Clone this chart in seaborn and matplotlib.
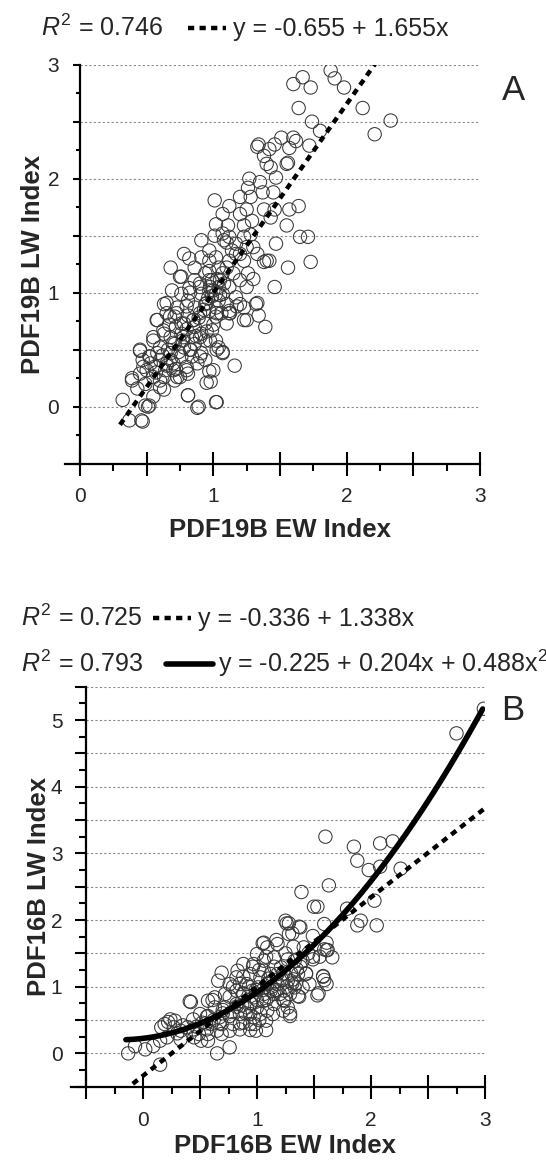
import numpy as np
import pandas as pd
import matplotlib
matplotlib.use("Agg")
import matplotlib.pyplot as plt
import seaborn as sns
from matplotlib.lines import Line2D
from matplotlib.ticker import MultipleLocator, FuncFormatter

# ---------------- data ----------------
a_ew = [1.88, 1.91, 1.98, 1.67, 1.60, 1.73, 2.12, 2.33, 2.21, 1.64, 1.74, 1.80, 1.72, 1.51, 1.60, 1.62,
        1.57, 1.46, 1.42, 1.34, 1.33, 1.38, 1.40, 1.56, 1.55, 1.43, 1.47, 1.27, 1.35, 1.26, 1.37, 1.45,
        1.28, 1.20, 1.01, 1.12, 1.25, 1.38, 1.46, 1.64, 1.57, 1.07, 1.20, 1.29, 1.43, 1.02, 1.11, 1.23,
        1.55, 0.91, 1.01, 1.07, 1.12, 1.10, 1.23, 1.28, 1.30, 1.47, 1.65, 1.71, 1.73, 1.56, 1.40, 1.42,
        1.46, 1.32, 1.34, 1.39, 1.16, 1.02, 0.88, 0.81, 1.23, 1.12, 1.07, 0.98, 0.97, 0.78, 0.82, 0.68,
        0.76, 0.69, 0.91, 0.97, 1.02, 0.86, 0.94, 0.99, 1.04, 0.97, 1.07, 1.12, 1.17, 1.10, 1.02, 0.94,
        0.86, 0.81, 0.73, 0.65, 0.63, 0.58, 0.71, 0.78, 0.86, 0.94, 0.99, 0.91, 0.84, 0.76, 0.68, 0.63,
        0.55, 0.60, 0.71, 0.78, 0.86, 0.94, 1.02, 1.04, 0.91, 0.84, 0.76, 0.68, 0.60, 0.52, 0.47, 0.45,
        0.56, 0.64, 0.72, 0.80, 0.88, 0.94, 0.50, 0.55, 0.63, 0.73, 0.81, 0.45, 0.39, 0.49, 0.60, 0.71,
        0.43, 0.32, 0.49, 0.51, 0.52, 0.46, 0.37, 0.47, 0.55, 0.63, 0.58, 0.68, 1.17, 1.23, 1.26, 1.30,
        1.25, 1.20, 1.15, 1.10, 1.07, 1.12, 0.97, 0.86, 0.91, 1.02, 0.97, 0.99, 1.04, 1.12, 1.23, 1.20,
        1.06, 1.02, 0.81, 0.85, 0.90, 0.97, 0.76, 0.82, 0.90, 0.97, 1.04, 1.08, 1.17, 1.20, 1.14, 1.25,
        1.33, 1.38, 0.62, 0.66, 0.70, 0.74, 0.77, 0.80, 0.83, 0.87, 0.89, 0.93, 0.96, 1.00, 1.03, 1.05,
        1.08, 1.00, 0.95, 0.72, 0.67, 0.57, 0.53, 0.65,
        0.575, 0.65, 0.725, 0.80, 0.85, 0.90, 0.975, 1.025, 1.07, 1.25, 1.33, 1.175, 1.125, 0.65,
        0.525, 0.45, 0.39, 0.475, 0.60, 0.70, 0.80, 0.75, 0.81, 0.89, 1.025, 0.95, 1.00, 0.55,
        0.625, 0.775, 0.70, 0.825, 0.90, 0.76, 0.675, 0.95, 1.025, 1.10, 0.975, 1.05, 0.90, 0.825,
        0.75]
a_lw = [2.95, 2.88, 2.80, 2.89, 2.83, 2.80, 2.62, 2.51, 2.39, 2.62, 2.50, 2.42, 2.29, 2.36, 2.36, 2.33,
        2.27, 2.30, 2.26, 2.30, 2.28, 2.20, 2.13, 2.14, 2.13, 2.10, 2.01, 2.00, 1.97, 1.92, 1.88, 1.88,
        1.84, 1.84, 1.81, 1.76, 1.73, 1.73, 1.73, 1.76, 1.73, 1.69, 1.69, 1.63, 1.66, 1.60, 1.59, 1.59,
        1.59, 1.46, 1.50, 1.52, 1.49, 1.44, 1.49, 1.51, 1.40, 1.43, 1.49, 1.49, 1.27, 1.22, 1.28, 1.28,
        1.05, 0.90, 0.80, 0.70, 0.36, 0.04, -0.01, 0.10, 0.76, 0.82, 0.48, 0.22, 0.31, 1.34, 1.30, 1.22,
        1.14, 1.02, 1.31, 1.37, 1.31, 1.11, 1.17, 1.11, 1.05, 1.02, 0.99, 1.05, 0.96, 0.90, 0.87, 0.90,
        0.87, 0.93, 0.87, 0.82, 0.90, 0.76, 0.79, 0.73, 0.70, 0.73, 0.67, 0.64, 0.61, 0.64, 0.61, 0.64,
        0.58, 0.52, 0.55, 0.52, 0.55, 0.58, 0.58, 0.52, 0.47, 0.44, 0.44, 0.41, 0.41, 0.44, 0.41, 0.49,
        0.35, 0.32, 0.33, 0.35, 0.38, 0.41, 0.32, 0.26, 0.26, 0.26, 0.29, 0.29, 0.25, 0.20, 0.17, 0.23,
        0.16, 0.06, 0.01, 0.00, 0.01, -0.12, -0.12, -0.13, 0.09, 0.15, 0.47, 0.47, 1.34, 1.28, 1.17, 1.12,
        1.05, 1.11, 1.17, 1.22, 1.17, 1.28, 1.28, 1.22, 0.99, 0.99, 1.11, 0.97, 0.93, 0.84, 0.87, 0.90,
        0.82, 0.79, 0.80, 0.76, 0.82, 0.84, 0.99, 1.04, 1.05, 1.19, 1.22, 1.46, 1.43, 1.34, 1.37, 1.40,
        1.34, 1.27, 0.45, 0.50, 0.38, 0.48, 0.58, 0.68, 0.50, 0.62, 0.78, 0.85, 0.95, 1.02, 1.12, 0.98,
        1.08, 0.72, 0.66, 0.70, 0.72, 0.30, 0.38, 0.36,
        0.76, 0.91, 0.82, 0.88, 0.76, 0.61, 0.58, 0.50, 0.47, 0.76, 0.91, 0.88, 0.82, 0.38,
        0.44, 0.50, 0.23, 0.35, 0.23, 0.32, 0.32, 0.26, 0.10, 0.00, 0.04, 0.21, 0.32, 0.61,
        0.67, 0.61, 0.56, 0.50, 0.44, 0.73, 0.79, 0.91, 0.82, 0.73, 1.05, 1.11, 1.08, 1.00,
        1.14]

b_ew = [2.99, 2.75, 1.60, 1.85, 2.08, 2.19, 1.88, 1.98, 2.08, 2.26, 1.39, 1.63, 1.50, 1.53, 1.79, 2.03,
        1.25, 1.28, 1.38, 1.59, 1.91, 1.88, 2.05, 1.28, 1.49, 1.61, 1.59, 1.66, 1.49, 1.41, 1.58, 1.61,
        1.59, 1.53, 1.36, 1.40, 1.29, 1.06, 1.09, 1.18, 1.00, 0.88, 0.82, 0.69, 0.66, 0.41, 0.24, 0.19,
        0.16, 0.28, -0.13, 0.02, 0.15, 0.09, 0.65, 0.76, 0.33, 0.44, 0.51, 0.57, 0.98, 0.99, 1.08, 1.14,
        1.23, 1.15, 1.24, 1.32, 1.35, 1.33, 1.27, 1.21, 1.12, 1.03, 0.94, 0.91, 1.01, 1.09, 1.18, 1.27,
        1.33, 1.24, 1.15, 1.06, 0.97, 0.88, 0.82, 0.72, 0.63, 0.57, 0.63, 0.72, 0.82, 0.91, 1.00, 1.09,
        0.94, 0.85, 0.76, 0.67, 0.57, 0.50, 0.44, 0.52, 0.60, 0.69, 0.79, 0.88, 0.97, 1.03, 0.39, 0.33,
        0.27, 0.56, 0.65, 0.76, 0.85, 0.45, 0.57, 0.49, 0.69, 0.83, 0.76, 0.85, 0.96, 1.06, 1.12, 1.20,
        1.29, 1.36, 1.40, 1.43, 1.15, 1.06, 0.97, 1.06, 1.18, 1.46, 1.27, 0.94, 0.15, 0.21, -0.07, 0.95,
        1.00, 1.05, 1.10, 1.13, 1.17, 1.22, 1.26, 1.30, 1.34, 1.38, 1.10, 0.90, 0.87, 0.78, 0.70, 0.62,
        0.55, 0.47, 0.35, 0.30, 0.93, 1.02, 1.15, 1.25, 1.32, 1.45, 1.55, 1.62, 0.22, 0.42,
        0.79, 0.88, 0.965, 1.08, 1.05, 1.17, 1.26, 1.37, 1.31, 1.23, 1.31, 1.37, 1.23, 1.08, 0.94,
        0.82, 0.70, 0.61, 0.56, 0.67, 0.85, 1.02, 1.08, 0.94, 1.29, 1.54, 1.58, 1.49, 1.61, 1.43,
        1.11, 0.99, 1.17, 0.88, 0.76]
b_lw = [5.17, 4.80, 3.25, 3.10, 3.15, 3.18, 2.89, 2.75, 2.80, 2.77, 2.42, 2.52, 2.20, 2.20, 2.17, 2.29,
        1.99, 1.95, 1.89, 1.94, 1.99, 1.92, 1.92, 1.79, 1.76, 1.66, 1.56, 1.44, 1.41, 1.59, 1.16, 1.04,
        1.10, 0.87, 0.86, 0.99, 0.56, 1.66, 1.59, 1.64, 1.49, 1.34, 1.14, 1.21, 1.09, 0.78, 0.51, 0.44,
        0.39, 0.49, 0.00, 0.06, -0.17, 0.11, 0.00, 0.09, 0.21, 0.36, 0.19, 0.29, 0.44, 0.34, 0.49, 0.59,
        0.64, 0.89, 0.94, 1.11, 1.26, 1.39, 1.41, 1.29, 1.19, 1.14, 1.19, 1.04, 0.99, 1.04, 1.04, 1.09,
        0.99, 0.79, 0.74, 0.79, 0.84, 0.89, 0.94, 0.89, 0.84, 0.79, 0.69, 0.69, 0.74, 0.69, 0.69, 0.64,
        0.59, 0.59, 0.56, 0.54, 0.56, 0.59, 0.51, 0.46, 0.44, 0.44, 0.44, 0.46, 0.54, 0.59, 0.39, 0.34,
        0.39, 0.36, 0.34, 0.34, 0.36, 0.24, 0.19, 0.29, 0.29, 1.24, 1.04, 1.04, 0.94, 0.89, 0.94, 0.89,
        0.89, 1.19, 1.39, 1.19, 1.44, 1.39, 1.34, 1.24, 1.19, 1.04, 0.69, 0.44, 0.19, 0.24, 0.11, 0.75,
        0.80, 0.95, 0.85, 1.00, 0.95, 1.10, 1.00, 1.20, 1.05, 1.30, 1.12, 0.60, 0.72, 0.62, 0.60, 0.50,
        0.45, 0.40, 0.42, 0.30, 1.00, 1.25, 1.30, 1.50, 1.60, 1.50, 1.45, 1.55, 0.47, 0.77,
        1.00, 1.15, 1.30, 1.45, 1.65, 1.70, 1.95, 1.90, 1.80, 1.20, 1.05, 0.85, 0.80, 0.80, 0.75,
        0.70, 0.65, 0.80, 0.55, 0.45, 0.45, 0.50, 0.35, 0.35, 0.60, 0.90, 1.15, 1.45, 1.55, 1.20,
        1.05, 0.95, 0.95, 0.90, 0.85]

# fitted-line coefficients (lowest order first) and the x ranges they are drawn over
a_lin = [-0.655, 1.655]
a_lin_range = [0.30, 2.22]
b_lin = [-0.336, 1.338]
b_lin_range = [-0.09, 3.0]
b_quad = [0.225, 0.204, 0.488]
b_quad_range = [-0.15, 2.98]

a_labels = [r"$R^2$ = 0.746", "y = -0.655 + 1.655x"]
b_labels = [r"$R^2$ = 0.725", "y = -0.336 + 1.338x",
            r"$R^2$ = 0.793", "y = -0.225 + 0.204x + 0.488x$^2$"]

# ---------------- style ----------------
sns.set_theme(style="white")
plt.rcParams['font.family'] = ['Liberation Sans', 'DejaVu Sans']
plt.rcParams['mathtext.fontset'] = 'custom'
plt.rcParams['mathtext.rm'] = 'Liberation Sans'
plt.rcParams['mathtext.it'] = 'Liberation Sans:italic'
plt.rcParams['mathtext.bf'] = 'Liberation Sans:bold'

W, H = 546, 1163
fig = plt.figure(figsize=(W / 100, H / 100), dpi=100)
fig.patch.set_facecolor('white')

axA = fig.add_axes([80 / W, 1 - 463.7 / H, 400 / W, 399 / H])
axB = fig.add_axes([86 / W, 1 - 1086.7 / H, 399 / W, 400 / H])

dash = (0, (1.4, 1.2))


def poly_line(coefs, xr, n=200):
    xs = np.linspace(xr[0], xr[1], n)
    ys = np.zeros_like(xs)
    for k, c in enumerate(coefs):
        ys = ys + c * xs ** k
    return pd.DataFrame({"x": xs, "y": ys})


def style_axes(ax, xlim, ylim, ext_px, px_per_x, ymaj, ymin, ypad, xpad):
    ax.set_xlim(*xlim)
    ax.set_ylim(*ylim)
    ax.set_facecolor('white')
    for s in ['top', 'right']:
        ax.spines[s].set_visible(False)
    for s in ['left', 'bottom']:
        ax.spines[s].set_color('black')
        ax.spines[s].set_linewidth(1.6)
        ax.spines[s].set_zorder(5)
    ax.spines['bottom'].set_bounds(xlim[0] - ext_px / px_per_x, xlim[1])
    ax.xaxis.set_major_locator(MultipleLocator(0.5))
    ax.xaxis.set_minor_locator(MultipleLocator(0.25))
    ax.yaxis.set_major_locator(MultipleLocator(0.5))
    ax.yaxis.set_minor_locator(MultipleLocator(0.25))
    fmt = FuncFormatter(lambda v, p: f"{int(round(v))}" if abs(v - round(v)) < 1e-6 else "")
    ax.xaxis.set_major_formatter(fmt)
    ax.yaxis.set_major_formatter(fmt)
    ax.tick_params(axis='x', which='major', direction='inout', length=17, width=1.5,
                   color='black', labelsize=15, pad=xpad, bottom=True)
    ax.tick_params(axis='x', which='minor', direction='out', length=5, width=1.5,
                   color='black', bottom=True)
    ax.tick_params(axis='y', which='major', direction='out', length=ymaj, width=1.5,
                   color='black', labelsize=15, pad=ypad, left=True)
    ax.tick_params(axis='y', which='minor', direction='out', length=ymin, width=1.5,
                   color='black', left=True)
    ax.yaxis.grid(True, which='major', color='#8a8a8a', linestyle=(0, (2, 2)), linewidth=0.8)
    ax.xaxis.grid(False)
    ax.set_axisbelow(True)


scatter_kw = dict(marker='o', s=92, facecolors='none', edgecolor='#383838',
                  linewidth=0.75, zorder=3)

# ---------------- panel A ----------------
sns.scatterplot(x=a_ew, y=a_lw, ax=axA, **scatter_kw)
la = poly_line(a_lin, a_lin_range)
sns.lineplot(data=la, x="x", y="y", ax=axA, color='black', linewidth=3.2,
             linestyle=dash, zorder=4)
style_axes(axA, (0, 3), (-0.5, 3), 15, 133.3, 5, 3.2, 10, 8)
axA.set_xlabel("PDF19B EW Index", fontsize=18.5, fontweight='bold', labelpad=9)
axA.set_ylabel("PDF19B LW Index", fontsize=18.5, fontweight='bold', labelpad=2)

# ---------------- panel B ----------------
sns.scatterplot(x=b_ew, y=b_lw, ax=axB, **scatter_kw)
lb = poly_line(b_lin, b_lin_range)
sns.lineplot(data=lb, x="x", y="y", ax=axB, color='black', linewidth=3.2,
             linestyle=dash, zorder=4)
qb = poly_line(b_quad, b_quad_range)
sns.lineplot(data=qb, x="x", y="y", ax=axB, color='black', linewidth=4.0, zorder=4)
style_axes(axB, (-0.5, 3), (-0.5, 5.5), 15, 114, 8, 4.7, 9, 9)
axB.set_xlabel("PDF16B EW Index", fontsize=18.5, fontweight='bold', labelpad=3)
axB.set_ylabel("PDF16B LW Index", fontsize=18.5, fontweight='bold', labelpad=0)


# ---------------- legends / panel letters ----------------
def fx(px):
    return px / W


def fy(py):
    return 1 - py / H


fs = 18
fig.text(fx(41), fy(36), a_labels[0], fontsize=fs, va='baseline', ha='left')
fig.add_artist(Line2D([fx(188), fx(226)], [fy(28), fy(28)], color='black',
                      linewidth=3.2, linestyle=dash))
fig.text(fx(233), fy(36), a_labels[1], fontsize=fs, va='baseline', ha='left')

fig.text(fx(21), fy(626), b_labels[0], fontsize=fs, va='baseline', ha='left')
fig.add_artist(Line2D([fx(153), fx(191)], [fy(618), fy(618)], color='black',
                      linewidth=3.2, linestyle=dash))
fig.text(fx(198), fy(626), b_labels[1], fontsize=fs, va='baseline', ha='left')

fig.text(fx(21), fy(672), b_labels[2], fontsize=fs, va='baseline', ha='left')
fig.add_artist(Line2D([fx(166), fx(213)], [fy(664), fy(664)], color='black',
                      linewidth=4.0))
fig.text(fx(218), fy(672), b_labels[3], fontsize=fs, va='baseline', ha='left')

fig.text(fx(513), fy(91), "A", fontsize=25, ha='center', va='center')
fig.text(fx(513), fy(711), "B", fontsize=25, ha='center', va='center')

for ax in (axA, axB):
    leg = ax.get_legend()
    if leg is not None:
        leg.remove()

fig.savefig("out.png", dpi=100, facecolor='white')
